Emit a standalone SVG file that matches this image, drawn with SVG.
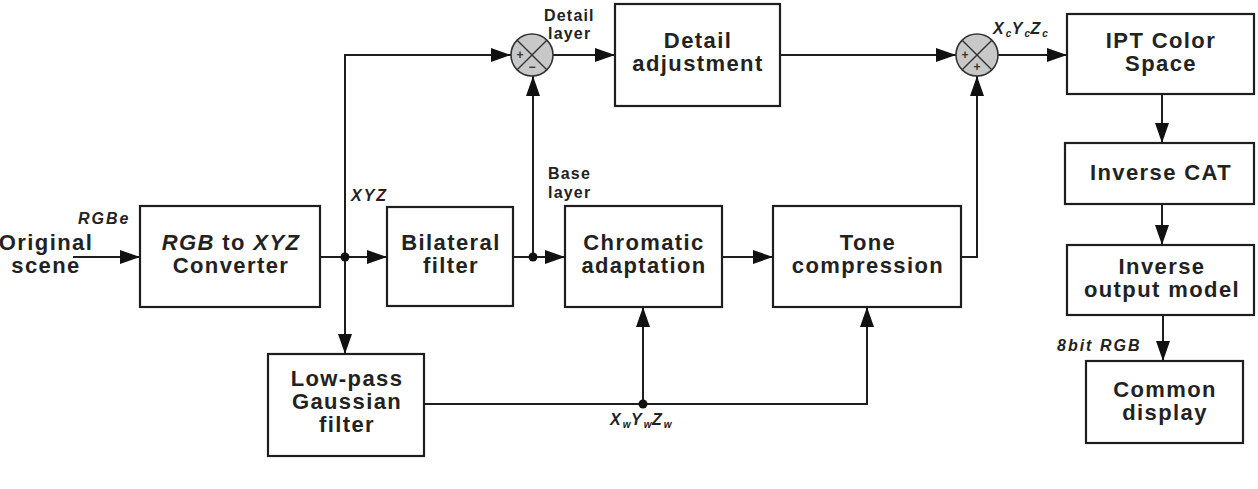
<svg xmlns="http://www.w3.org/2000/svg" width="1258" height="489" viewBox="0 0 1258 489">
  <defs>
    <marker id="ah" markerUnits="userSpaceOnUse" markerWidth="20" markerHeight="14" refX="20" refY="7" orient="auto">
      <path d="M0,0 L20,7 L0,14 z" fill="#111"/>
    </marker>
    <style>
      .box { fill: #fff; stroke: #1e1e1e; stroke-width: 2.2; }
      .lbl { font-family: "Liberation Sans", Arial, sans-serif; font-weight: bold; font-size: 22px; letter-spacing: 1.4px; fill: #222; text-anchor: middle; }
      .sm { font-family: "Liberation Sans", Arial, sans-serif; font-weight: bold; font-size: 16px; letter-spacing: 1.2px; fill: #222; }
      .it { font-family: "Liberation Sans", Arial, sans-serif; font-weight: bold; font-style: italic; font-size: 16px; letter-spacing: 2px; fill: #222; }
      .sub { font-size: 10px; letter-spacing: 0.5px; }
      .arr { fill: none; stroke: #1e1e1e; stroke-width: 2; marker-end: url(#ah); }
      .dot { fill: #111; }
      .sum { fill: #c8c8c8; stroke: #333; stroke-width: 1.6; }
      .x { stroke: #333; stroke-width: 1.4; }
      .sign { font-family: "Liberation Sans", Arial, sans-serif; font-weight: bold; font-size: 12px; fill: #333; text-anchor: middle; }
    </style>
  </defs>

  <g id="connectors">
    <path class="arr" d="M73,257 H140"/>
    <path class="arr" d="M320,257 H387"/>
    <path class="arr" d="M345,257 V354"/>
    <path class="arr" d="M345,257 V55 H511"/>
    <path class="arr" d="M513,257 H565"/>
    <path class="arr" d="M533,257 V76"/>
    <path class="arr" d="M553,55 H615"/>
    <path class="arr" d="M780,55 H956"/>
    <path class="arr" d="M722,257 H773"/>
    <path class="arr" d="M961,257 H977 V76"/>
    <path class="arr" d="M998,55 H1067"/>
    <path class="arr" d="M1162,94 V143"/>
    <path class="arr" d="M1162,204 V245"/>
    <path class="arr" d="M1163,315 V361"/>
    <path class="arr" d="M424,404 H867 V307"/>
    <path class="arr" d="M643,404 V307"/>
    <circle class="dot" cx="345" cy="257" r="4.5"/>
    <circle class="dot" cx="533" cy="257" r="4.5"/>
    <circle class="dot" cx="643" cy="404" r="4.5"/>
  </g>

  <g id="labels">
    <text class="lbl" x="46" y="250">Original</text>
    <text class="lbl" x="46" y="273">scene</text>
    <text class="it" x="78" y="224">RGBe</text>
    <text class="it" x="351" y="201">XYZ</text>
    <text class="sm" x="544" y="21">Detail</text>
    <text class="sm" x="548" y="39">layer</text>
    <text class="sm" x="548" y="179">Base</text>
    <text class="sm" x="548" y="198">layer</text>
    <text class="it" x="993" y="34">X<tspan class="sub" dy="3">c</tspan><tspan dy="-3">Y</tspan><tspan class="sub" dy="3">c</tspan><tspan dy="-3">Z</tspan><tspan class="sub" dy="3">c</tspan></text>
    <text class="it" x="610" y="425">X<tspan class="sub" dy="3">w</tspan><tspan dy="-3">Y</tspan><tspan class="sub" dy="3">w</tspan><tspan dy="-3">Z</tspan><tspan class="sub" dy="3">w</tspan></text>
    <text class="it" x="1057" y="351">8bit RGB</text>
  </g>

  <g id="sum1">
    <circle class="sum" cx="532" cy="55" r="21"/>
    <line class="x" x1="517.2" y1="40.2" x2="546.8" y2="69.8"/>
    <line class="x" x1="546.8" y1="40.2" x2="517.2" y2="69.8"/>
    <text class="sign" x="520" y="59">+</text>
    <text class="sign" x="532" y="71">−</text>
  </g>

  <g id="sum2">
    <circle class="sum" cx="977" cy="55" r="21"/>
    <line class="x" x1="962.2" y1="40.2" x2="991.8" y2="69.8"/>
    <line class="x" x1="991.8" y1="40.2" x2="962.2" y2="69.8"/>
    <text class="sign" x="965" y="59">+</text>
    <text class="sign" x="977" y="71">+</text>
  </g>

  <g id="rgb2xyz">
    <rect class="box" x="140" y="206" width="180" height="101"/>
    <text class="lbl" x="231" y="250"><tspan font-style="italic">RGB</tspan> to <tspan font-style="italic">XYZ</tspan></text>
    <text class="lbl" x="231" y="273">Converter</text>
  </g>

  <g id="bilateral">
    <rect class="box" x="387" y="207" width="126" height="99"/>
    <text class="lbl" x="451" y="250">Bilateral</text>
    <text class="lbl" x="451" y="273">filter</text>
  </g>

  <g id="chromatic">
    <rect class="box" x="565" y="206" width="157" height="101"/>
    <text class="lbl" x="644" y="250">Chromatic</text>
    <text class="lbl" x="644" y="273">adaptation</text>
  </g>

  <g id="tone">
    <rect class="box" x="773" y="206" width="188" height="101"/>
    <text class="lbl" x="868" y="250">Tone</text>
    <text class="lbl" x="868" y="273">compression</text>
  </g>

  <g id="lowpass">
    <rect class="box" x="268" y="354" width="156" height="102"/>
    <text class="lbl" x="347" y="386">Low-pass</text>
    <text class="lbl" x="347" y="409">Gaussian</text>
    <text class="lbl" x="347" y="432">filter</text>
  </g>

  <g id="detailadj">
    <rect class="box" x="615" y="4" width="165" height="102"/>
    <text class="lbl" x="698" y="48">Detail</text>
    <text class="lbl" x="698" y="71">adjustment</text>
  </g>

  <g id="ipt">
    <rect class="box" x="1067" y="14" width="187" height="80"/>
    <text class="lbl" x="1161" y="48">IPT Color</text>
    <text class="lbl" x="1161" y="71">Space</text>
  </g>

  <g id="invcat">
    <rect class="box" x="1065" y="143" width="189" height="61"/>
    <text class="lbl" x="1161" y="180">Inverse CAT</text>
  </g>

  <g id="invout">
    <rect class="box" x="1067" y="245" width="187" height="70"/>
    <text class="lbl" x="1162" y="274">Inverse</text>
    <text class="lbl" x="1162" y="297">output model</text>
  </g>

  <g id="display">
    <rect class="box" x="1086" y="361" width="157" height="82"/>
    <text class="lbl" x="1165" y="397">Common</text>
    <text class="lbl" x="1165" y="420">display</text>
  </g>
</svg>
